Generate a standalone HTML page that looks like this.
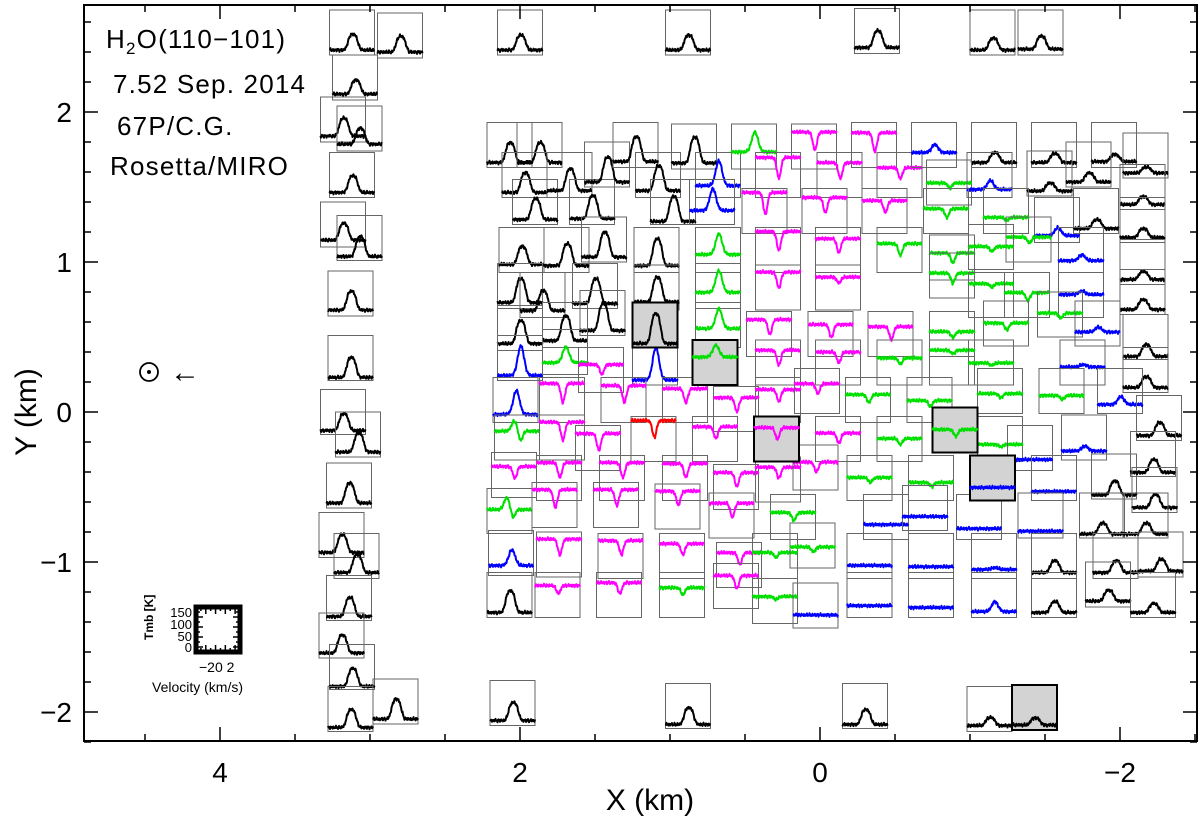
<!DOCTYPE html>
<html><head><meta charset="utf-8"><style>
html,body{margin:0;padding:0;background:#fff;}
svg{display:block;font-family:"Liberation Sans",sans-serif;}
</style></head><body>
<svg id="chart" width="1200" height="822" viewBox="0 0 1200 822" xmlns="http://www.w3.org/2000/svg">
<rect x="0" y="0" width="1200" height="822" fill="#fff"/>
<g id="spectra"></g>
<rect x="84" y="5" width="1113" height="736" fill="none" stroke="#000" stroke-width="2"/>
<g id="ticks"></g>
<g font-size="26" fill="#000" letter-spacing="1.2">
<text x="106" y="48">H<tspan font-size="17" dy="6">2</tspan><tspan dy="-6">O(110−101)</tspan></text>
<text x="113" y="93">7.52 Sep. 2014</text>
<text x="117" y="135">67P/C.G.</text>
<text x="110" y="175">Rosetta/MIRO</text>
</g>
<g>
<circle cx="149" cy="372" r="9" fill="none" stroke="#000" stroke-width="1.8"/>
<circle cx="149" cy="372" r="2" fill="#000"/>
<text x="170" y="382" font-size="30">←</text>
</g>
<g>
<rect x="196" y="607" width="44" height="45" fill="none" stroke="#000" stroke-width="5"/>
<g id="legendTicks"></g>
<text transform="translate(153,640) rotate(-90)" font-size="12" font-weight="bold">Tmb [K]</text>
<text x="192" y="617" font-size="13" text-anchor="end">150</text>
<text x="192" y="629" font-size="13" text-anchor="end">100</text>
<text x="192" y="641" font-size="13" text-anchor="end">50</text>
<text x="192" y="652" font-size="13" text-anchor="end">0</text>
<text x="199" y="672" font-size="14">−20 2</text>
<text x="152" y="692" font-size="14">Velocity (km/s)</text>
</g>
<text x="650" y="810" font-size="30" text-anchor="middle">X (km)</text>
<text transform="translate(36,412) rotate(-90)" font-size="30" text-anchor="middle">Y (km)</text>
</svg>
<script>
// spectra: [X km, Y km, color, baseline K, line amplitude K, optional absorption K]
const spectra = [
[3.12,2.53,'k',11,67],[2.80,2.51,'k',15,67],[3.10,2.23,'k',15,59],[3.18,1.95,'k',15,76],[3.07,1.89,'k',19,67],
[3.12,1.58,'k',11,71],[3.18,1.25,'k',19,71],[3.07,1.16,'k',7,84],[3.13,0.79,'k',15,80],[3.13,0.36,'k',3,84],
[3.18,0.00,'k',7,71],[3.08,-0.15,'k',11,80],[3.14,-0.49,'k',11,84],[3.19,-0.82,'k',11,76],[3.09,-0.96,'k',15,76],
[3.14,-1.24,'k',7,80],[3.19,-1.49,'k',11,76],[3.12,-1.70,'k',3,76],[3.13,-1.98,'k',7,76],[2.83,-1.93,'k',11,84],
[2.00,2.53,'k',11,63],[0.88,2.53,'k',11,63],[-0.38,2.54,'k',15,71],[-1.15,2.53,'k',11,50],[-1.47,2.53,'k',15,55],
[2.05,-1.94,'k',11,76],[0.88,-1.96,'k',7,71],[-0.30,-1.96,'k',7,63],[-1.13,-1.98,'k',15,34],
[2.07,1.78,'k',11,84],[1.87,1.78,'k',11,84],[1.97,1.58,'k',11,84],[1.90,1.40,'k',11,88],[1.67,1.58,'k',19,92],
[1.52,1.40,'k',15,97],[1.42,1.65,'k',11,105],[1.23,1.78,'k',15,105],[1.08,1.58,'k',19,105],[0.98,1.40,'k',3,105],
[0.84,1.77,'k',15,109],[0.68,1.58,'b',40,105],[0.72,1.40,'b',49,92],[0.44,1.77,'g',62,84],[0.04,1.77,'m',146,-76],
[0.28,1.58,'m',159,-88],[-0.13,1.58,'m',137,-67],[0.37,1.34,'m',163,-92],[-0.03,1.34,'m',142,-63],
[1.99,1.08,'k',24,76],[1.69,1.08,'k',19,92],[1.44,1.15,'k',11,105],[1.09,1.08,'k',19,113],[0.68,1.08,'g',66,88],
[0.28,1.08,'m',163,-80],[-0.12,1.08,'m',133,-59],
[2.00,0.84,'k',15,101],[1.85,0.78,'k',19,84],[1.50,0.84,'k',11,105],[1.09,0.83,'k',24,105],[0.68,0.84,'g',58,92],
[0.28,0.83,'m',150,-67],[-0.12,0.83,'m',129,-25],
[2.00,0.56,'k',19,97],[1.70,0.58,'k',19,105],[1.45,0.66,'k',11,113],[0.68,0.58,'g',70,84],
[0.34,0.52,'m',146,-63],[-0.07,0.52,'m',125,-55],[0.28,0.33,'m',137,-63],[-0.12,0.33,'m',129,-46],
[2.00,0.36,'b',11,126],[1.70,0.40,'g',40,67],[1.46,0.28,'m',108,-42],[1.10,0.33,'b',11,139],
[2.03,0.08,'b',24,101],[1.72,0.08,'m',155,-80],[1.31,0.08,'m',146,-71],[0.90,0.08,'m',133,-59],[0.56,0.02,'m',133,-59],
[0.28,0.08,'m',129,-50],[0.02,0.14,'m',116,-42],
[2.02,-0.17,'g',112,42,-42],[1.72,-0.17,'m',150,-76],[1.48,-0.24,'m',146,-71],[1.11,-0.18,'r',163,-71],[0.70,-0.18,'m',137,-50],
[-0.12,-0.18,'m',110,-42],
[2.04,-0.42,'m',121,-50],[1.74,-0.44,'m',150,-63],[1.32,-0.44,'m',150,-63],[0.90,-0.44,'m',146,-59],[0.56,-0.50,'m',146,-59],
[0.28,-0.45,'m',137,-46],[0.03,-0.37,'m',108,-42],
[2.07,-0.66,'g',91,50,-34],[1.77,-0.62,'m',150,-76],[1.36,-0.62,'m',150,-67],[0.95,-0.63,'m',150,-59],[0.59,-0.69,'m',137,-59],
[0.18,-0.70,'g',104,-34],
[2.06,-0.94,'b',32,67],[1.74,-0.95,'m',150,-67],[1.33,-0.96,'m',150,-59],[0.92,-0.96,'m',137,-46],[0.54,-1.02,'m',137,-50],
[0.30,-0.96,'g',100,-21],[0.05,-0.89,'g',79,-21],
[2.07,-1.22,'k',11,92],[1.75,-1.22,'m',125,-34],[1.34,-1.22,'m',137,-46],[0.92,-1.22,'g',116,-29],[0.56,-1.16,'m',129,-55],
[0.30,-1.26,'g',104,-13],[0.03,-1.29,'b',45,0],
[-0.36,1.78,'m',137,-80],[-0.53,1.58,'m',116,-46],[-0.76,1.78,'b',53,34],[-1.16,1.78,'k',11,42],[-1.56,1.78,'k',11,38],
[-1.96,1.78,'k',15,30],[-2.17,1.71,'k',11,25],[-0.86,1.53,'g',83,-21],[-1.13,1.58,'b',24,38],[-1.53,1.59,'k',11,34],
[-1.79,1.65,'k',11,38],[-0.43,1.34,'m',129,-50],[-0.84,1.34,'g',95,-38],[-1.24,1.34,'g',58,-13],[-2.15,1.50,'k',11,34],
[-1.58,1.28,'b',19,34],[-1.84,1.34,'k',11,38],[-2.15,1.28,'k',11,38],[-1.39,1.15,'g',95,-25],[-0.53,1.08,'g',112,-50],
[-0.88,1.03,'g',104,-42],[-1.14,1.10,'g',87,-21],[-1.74,1.08,'b',40,25],[-2.15,1.00,'k',11,34],[-0.88,0.91,'g',95,-42],
[-1.14,0.78,'g',133,-15],[-1.38,0.78,'g',95,-34],[-1.74,0.78,'b',87,15],[-2.15,0.80,'k',11,42],[-1.60,0.65,'g',91,-21],
[-0.47,0.52,'m',116,-55],[-0.88,0.52,'g',95,-25],[-1.24,0.59,'g',87,-29],[-1.85,0.59,'b',49,21],[-2.17,0.50,'k',3,50],
[-0.53,0.33,'g',104,-25],[-0.88,0.33,'g',137,-15],[-1.14,0.33,'g',83,-10],[-1.75,0.33,'b',66,10],
[-0.32,0.08,'g',108,-34],[-0.73,0.08,'g',83,-25],[-1.20,0.14,'g',74,-17],[-1.61,0.14,'g',66,-17],[-2.17,0.28,'k',11,46],
[-2.00,0.14,'b',28,34],[-0.53,-0.18,'g',87,-25],[-1.20,-0.18,'g',62,-10],[-1.40,-0.24,'b',36,0],[-1.76,-0.17,'b',28,21],
[-2.26,-0.04,'k',11,55],[-0.33,-0.44,'g',87,-21],[-0.74,-0.44,'g',66,-17],[-1.56,-0.44,'b',28,0],[-1.96,-0.43,'k',7,59],
[-2.22,-0.28,'k',7,55],[-2.23,-0.52,'k',11,55],[-0.44,-0.70,'b',53,0],[-0.70,-0.64,'b',49,0],[-1.06,-0.70,'b',36,0],
[-1.47,-0.69,'b',19,0],[-1.88,-0.69,'k',7,46],[-2.17,-0.69,'k',7,46],[-0.33,-0.96,'b',45,0],[-0.74,-0.96,'b',40,0],
[-1.16,-0.96,'b',28,8],[-1.56,-0.96,'k',15,50],[-1.97,-0.96,'k',15,50],[-2.27,-0.95,'k',15,50],[-0.33,-1.22,'b',40,0],
[-0.74,-1.22,'b',32,0],[-1.16,-1.22,'b',15,42],[-1.56,-1.22,'k',11,46],[-1.92,-1.15,'k',15,46],[-2.22,-1.22,'k',11,38]
];
// highlighted (gray) spectra
const highlighted = [
[1.10,0.58,'k',7,126],[0.70,0.33,'g',108,50],[0.29,-0.18,'m',133,-50],[-0.90,-0.12,'g',87,-29],
[-1.15,-0.44,'b',45,0],[-1.43,-1.97,'k',11,30]
];
const xTicksMajor = [4,2,0,-2];
const xTickLabels = ['4','2','0','−2'];
const yTicksMajor = [2,1,0,-1,-2];
const yTickLabels = ['2','1','0','−1','−2'];

const NS='http://www.w3.org/2000/svg';
const sx = v => 820 - v*150;
const sy = v => 412 - v*150;
const BOX = 45;
const kToPx = (k, top) => top + BOX - (k + 10) / 190 * BOX;
const colors = {k:'#000', b:'#0000ff', g:'#00e000', m:'#ff00ff', r:'#ff0000'};
const layer = document.getElementById('spectra');

function mk(tag, attrs){ const e=document.createElementNS(NS,tag); for(const a in attrs) e.setAttribute(a,attrs[a]); return e; }

function drawSpec(s, idx, gray){
  const left = sx(s[0]) - BOX/2, top = sy(s[1]) - BOX/2;
  const g = mk('g',{});
  
  
  const r = mk('rect',{x:left,y:top,width:BOX,height:BOX,fill:gray?'#d3d3d3':'none',stroke:gray?'#000':'#666','stroke-width':gray?2:1});
  
  
  g.appendChild(r);
  const c = s[2], base = s[3], amp = s[4], amp2 = s[5] || 0;
  const wid = c==='k' ? 0.1 : (amp>0 ? 0.07 : 0.045);
  let d='';
  const N=90;
  for(let i=0;i<=N;i++){
    const u=i/N;
    let k = base;
    if(amp2){
      k += amp*Math.exp(-Math.pow((u-0.44)/0.06,2)/2) + amp2*Math.exp(-Math.pow((u-0.58)/0.045,2)/2);
    } else {
      const z=(u-0.52)/wid;
      k += amp*Math.exp(-Math.pow(Math.abs(z),c==='k'?3:2)/2);
    }
    const nz = 0.9*Math.sin(i*2.3+idx*1.7)+0.7*Math.sin(i*5.1+idx)+0.4*Math.sin(i*11.7+idx*0.3);
    const px = left + u*BOX, py = kToPx(k, top) + nz;
    d += (i?'L':'M') + px.toFixed(1) + ' ' + py.toFixed(1);
  }
  const p = mk('path',{d:d,fill:'none',stroke:colors[c],'stroke-width':2,'stroke-linejoin':'round'});
  
  
  g.appendChild(p);
  layer.appendChild(g);
}
spectra.forEach((s,i)=>drawSpec(s,i,false));
highlighted.forEach((s,i)=>drawSpec(s,i+500,true));

const lt = document.getElementById('legendTicks');
for(let i=1;i<9;i++){
  const x=196+i*44/9, y=607+i*45/9, L=(i%2?4:7);
  [[x,607,x,607+L],[x,652,x,652-L],[196,y,196+L,y],[240,y,240-L,y]].forEach(a=>{
    const l=mk('line',{x1:a[0],y1:a[1],x2:a[2],y2:a[3],stroke:'#000','stroke-width':1.5});
    
    
    lt.appendChild(l);
  });
}

const tg = document.getElementById('ticks');
function line(x1,y1,x2,y2,name){
  const l=mk('line',{x1:x1,y1:y1,x2:x2,y2:y2,stroke:'#000','stroke-width':1.5});
  
  
  tg.appendChild(l);
}
for(let v=-2.5; v<=4.9; v+=0.5){
  const x=sx(v), major=Math.abs(v-Math.round(v/2)*2)<1e-6, L=major?14:7;
  line(x,741,x,741-L,'x-tick'); line(x,5,x,5+L,'x-tick-top');
}
for(let v=-2.2; v<=2.7; v+=0.2){
  const y=sy(v), major=Math.abs(v-Math.round(v))<1e-6, L=major?14:7;
  line(84,y,84+L,y,'y-tick'); line(1197,y,1197-L,y,'y-tick-right');
}
xTicksMajor.forEach((v,i)=>{
  const t=mk('text',{x:sx(v),y:782,'font-size':28,'text-anchor':'middle'});
  
  
  t.textContent=xTickLabels[i]; tg.appendChild(t);
});
yTicksMajor.forEach((v,i)=>{
  const t=mk('text',{x:72,y:sy(v)+10,'font-size':28,'text-anchor':'end'});
  
  
  t.textContent=yTickLabels[i]; tg.appendChild(t);
});
</script>
</body></html>
